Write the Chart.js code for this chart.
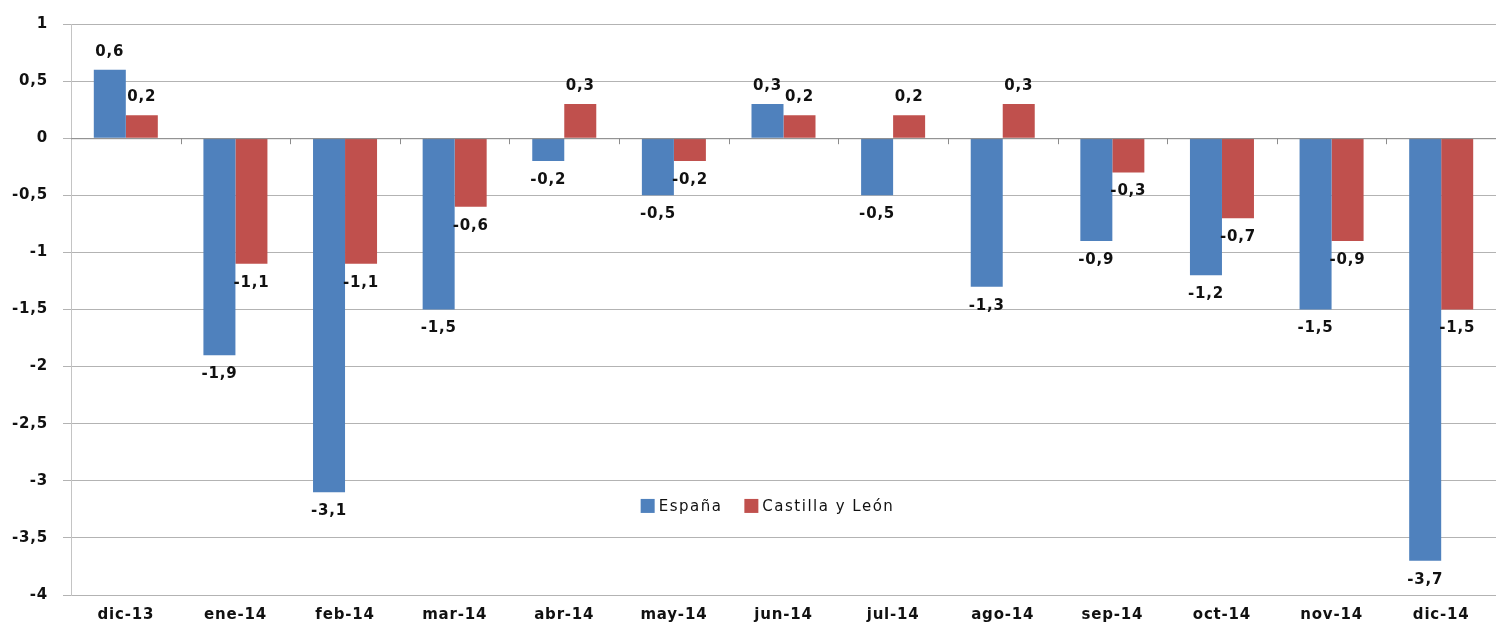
<!DOCTYPE html>
<html>
<head>
<meta charset="utf-8">
<script src="https://cdn.jsdelivr.net/npm/chart.js@4.4.1/dist/chart.umd.min.js"></script>
<style>
  html, body { margin: 0; padding: 0; background: #fff; }
  #wrap { width: 1499px; height: 626px; }
</style>
</head>
<body>
<div id="wrap"><canvas id="chart" width="1499" height="626"></canvas></div>
<script>
// months on the category axis
const months = ['dic-13', 'ene-14', 'feb-14', 'mar-14', 'abr-14', 'may-14', 'jun-14',
  'jul-14', 'ago-14', 'sep-14', 'oct-14', 'nov-14', 'dic-14'];
// series values
const espana = [0.6, -1.9, -3.1, -1.5, -0.2, -0.5, 0.3, -0.5, -1.3, -0.9, -1.2, -1.5, -3.7];
const castillaLeon = [0.2, -1.1, -1.1, -0.6, 0.3, -0.2, 0.2, 0.2, 0.3, -0.3, -0.7, -0.9, -1.5];
const seriesNames = ['España', 'Castilla y León'];

const FONT = '"DejaVu Sans", Verdana, sans-serif';
const fmt = v => String(v).replace('.', ',');

// slightly wider letters, like the original rendering
const spacing = {
  id: 'spacing',
  beforeDraw(chart) { chart.ctx.letterSpacing = '0.8px'; }
};

// data labels like Excel "outside end"
const valueLabels = {
  id: 'valueLabels',
  afterDatasetsDraw(chart) {
    const ctx = chart.ctx;
    ctx.save();
    ctx.font = 'bold 15px ' + FONT;
    ctx.fillStyle = '#111';
    ctx.textAlign = 'center';
    ctx.textBaseline = 'middle';
    chart.data.datasets.forEach((ds, di) => {
      chart.getDatasetMeta(di).data.forEach((bar, i) => {
        const v = ds.data[i];
        const y = v >= 0 ? bar.y - 18 : bar.y + 19;
        ctx.fillText(fmt(v), bar.x, y);
      });
    });
    ctx.restore();
  }
};

// small tick marks on the zero line between categories + legend inside the plot
const zeroAxis = {
  id: 'zeroAxis',
  afterDraw(chart) {
    const ctx = chart.ctx;
    const x = chart.scales.x, y = chart.scales.y;
    const y0 = y.getPixelForValue(0);
    ctx.save();
    ctx.strokeStyle = '#8c8c8c';
    ctx.lineWidth = 1;
    ctx.beginPath();
    ctx.moveTo(chart.chartArea.left, y0 + 0.5);
    ctx.lineTo(chart.chartArea.right, y0 + 0.5);
    for (let i = 0; i < months.length - 1; i++) {
      const bx = Math.round((x.getPixelForValue(i) + x.getPixelForValue(i + 1)) / 2) + 0.5;
      ctx.moveTo(bx, y0);
      ctx.lineTo(bx, y0 + 6);
    }
    ctx.stroke();

    // legend
    const ly = y.getPixelForValue(-3.22);
    const cx = (chart.chartArea.left + chart.chartArea.right) / 2 - 16;
    ctx.font = '15px ' + FONT;
    ctx.letterSpacing = '1.5px';
    ctx.textBaseline = 'middle';
    ctx.textAlign = 'left';
    const gap = 22, box = 14;
    const w0 = ctx.measureText(seriesNames[0]).width;
    const w1 = ctx.measureText(seriesNames[1]).width;
    const total = box + 4 + w0 + gap + box + 4 + w1;
    let lx = cx - total / 2;
    chart.data.datasets.forEach((ds, i) => {
      ctx.fillStyle = ds.backgroundColor;
      ctx.fillRect(lx, ly - box / 2, box, box);
      ctx.fillStyle = '#111';
      ctx.fillText(seriesNames[i], lx + box + 4, ly + 1);
      lx += box + 4 + (i === 0 ? w0 : w1) + gap;
    });
    ctx.restore();
  }
};

new Chart(document.getElementById('chart'), {
  type: 'bar',
  data: {
    labels: months,
    datasets: [
      { label: seriesNames[0], data: espana, backgroundColor: '#4F81BD' },
      { label: seriesNames[1], data: castillaLeon, backgroundColor: '#C0504D' }
    ]
  },
  options: {
    responsive: false,
    animation: false,
    categoryPercentage: 0.584,
    barPercentage: 1.0,
    layout: { padding: { top: 22, right: 3, left: 0, bottom: 0 } },
    plugins: {
      legend: { display: false },
      tooltip: { enabled: false }
    },
    scales: {
      x: {
        grid: { display: false, drawTicks: false },
        border: { display: false },
        ticks: {
          padding: 11,
          color: '#111',
          font: { family: FONT, size: 15, weight: 'bold' },
          maxRotation: 0
        },
        afterFit(scale) { scale.height = 31; }
      },
      y: {
        min: -4,
        max: 1,
        grid: { color: '#b3b3b3', tickLength: 8, drawTicks: true },
        border: { display: true, color: '#c4c4c4' },
        ticks: {
          stepSize: 0.5,
          padding: 15,
          color: '#111',
          font: { family: FONT, size: 15, weight: 'bold' },
          callback: v => fmt(v)
        },
        afterFit(scale) { scale.width = 71; }
      }
    }
  },
  plugins: [spacing, valueLabels, zeroAxis]
});
</script>
</body>
</html>
